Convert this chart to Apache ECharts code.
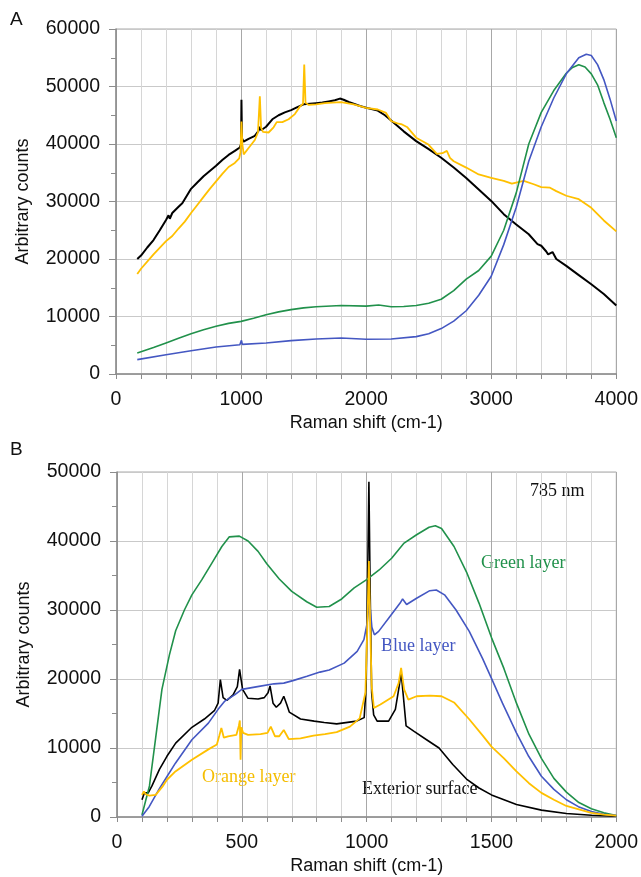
<!DOCTYPE html>
<html>
<head>
<meta charset="utf-8">
<script src="https://cdn.jsdelivr.net/npm/echarts@6/dist/echarts.min.js"></script>
<style>
html,body{margin:0;padding:0;background:#fff;}
#chart{width:641px;height:877px;}
</style>
</head>
<body>
<div id="chart"></div>
<script>
// ---------- Panel A data ----------
var aXTicks = [0, 1000, 2000, 3000, 4000];
var aYTicks = [0, 10000, 20000, 30000, 40000, 50000, 60000];

var aBlackX = [170,200,250,300,350,400,420,430,450,500,530,600,650,700,750,800,850,900,950,990,1000,1003,1007,1020,1060,1110,1140,1150,1160,1200,1250,1300,1350,1400,1450,1500,1550,1600,1650,1700,1750,1790,1820,1860,1900,1950,2000,2093,2150,2200,2300,2400,2500,2600,2700,2800,2900,3000,3100,3200,3300,3370,3400,3440,3455,3490,3520,3600,3700,3800,3900,4000];
var aBlackY = [20000,20600,22000,23300,25000,26800,27600,27000,28000,29100,29700,32200,33300,34400,35300,36200,37200,38100,38800,39400,40000,47700,41000,40400,40900,41400,42300,43000,42400,43000,44300,45000,45500,45900,46400,46900,47000,47100,47200,47400,47600,47900,47700,47300,47000,46600,46300,45800,45000,44100,42200,40500,39100,37600,35900,34100,32100,30100,27800,26000,24300,22600,22300,21300,20800,21200,20000,18800,17200,15600,13900,11900];

var aOrangeX = [170,200,300,400,450,500,550,600,650,700,750,800,850,900,950,985,995,1003,1010,1021,1060,1110,1135,1150,1160,1175,1220,1260,1285,1330,1380,1430,1470,1495,1505,1515,1540,1600,1670,1730,1800,1900,2000,2093,2159,2200,2250,2287,2300,2330,2400,2498,2565,2610,2645,2670,2700,2800,2900,3000,3100,3165,3260,3340,3400,3470,3520,3600,3700,3800,3900,4000];
var aOrangeY = [17400,18300,20800,23100,24000,25300,26500,28000,29400,30800,32200,33500,34800,36000,36700,37500,38500,43900,40000,38200,39300,40700,42000,48300,42800,42100,42000,42900,43800,43800,44300,45200,46500,47000,53800,47200,46800,46900,47100,47200,47300,46900,46300,46000,45400,44000,43600,43400,43600,42900,41100,39900,38300,38400,38800,37600,37000,35900,34700,34100,33600,33100,33600,33000,32500,32400,31800,31000,30400,28900,26700,24800];

var aGreenX = [170,300,400,500,600,700,800,900,1000,1100,1200,1300,1400,1500,1600,1800,2000,2100,2200,2300,2400,2500,2600,2700,2800,2900,3000,3100,3200,3300,3400,3500,3600,3650,3700,3750,3800,3850,3900,3950,4000];
var aGreenY = [3650,4600,5400,6200,7000,7700,8300,8800,9150,9700,10300,10800,11200,11500,11700,11900,11800,12000,11700,11750,11900,12300,13000,14500,16500,18000,20500,25000,31500,40000,45500,49300,52300,53300,53800,53400,52200,50300,47200,44300,41100];

var aBlueX = [170,400,600,800,990,1003,1010,1200,1400,1600,1800,2000,2200,2400,2500,2600,2700,2800,2900,3000,3100,3200,3300,3400,3500,3600,3700,3760,3800,3850,3900,3950,4000];
var aBlueY = [2500,3350,4050,4700,5100,5850,5150,5400,5800,6100,6250,6050,6100,6500,7000,7900,9200,11000,13700,17000,22500,29000,37000,43000,48000,52200,55000,55600,55400,53800,51200,47800,44000];

// ---------- Panel B data ----------
var bXTicks = [0, 500, 1000, 1500, 2000];
var bYTicks = [0, 10000, 20000, 30000, 40000, 50000];

var bGreenX = [100,130,155,180,210,235,270,300,340,380,420,450,490,525,565,600,650,700,760,800,850,900,950,1000,1050,1100,1150,1200,1250,1275,1300,1350,1400,1450,1500,1550,1600,1650,1700,1750,1800,1850,1900,1950,2000];
var bGreenY = [300,4500,11500,18500,23500,27000,30000,32200,34400,36800,39200,40600,40700,40000,38500,36700,34500,32700,31200,30400,30500,31600,33200,34400,35800,37500,39700,40900,42000,42200,41800,39200,35500,31000,26000,21500,16500,12000,8500,5600,3600,2100,1200,600,200];

var bBlueX = [100,129,168,201,234,300,366,405,432,471,500,563,629,668,708,761,813,850,910,962,989,1002,1011,1021,1031,1048,1094,1134,1144,1160,1200,1253,1279,1312,1358,1411,1464,1500,1544,1600,1649,1700,1750,1800,1848,1900,1950,2000];
var bBlueY = [100,1500,4000,5900,7800,11200,13600,15600,16800,17700,18500,18900,19300,19400,19800,20400,21000,21300,22300,24000,25700,28100,31500,27500,26400,26900,29100,31000,31600,30800,31700,32800,32900,32200,30000,26900,23000,20100,16500,12200,8800,5900,4000,2500,1500,800,400,200];

var bBlackX = [100,110,118,125,140,170,200,235,300,350,390,405,414,425,440,465,482,491,503,525,565,590,605,613,625,638,655,668,680,690,735,790,830,880,960,990,998,1004,1009,1014,1020,1028,1042,1088,1115,1130,1138,1147,1158,1190,1240,1290,1345,1400,1450,1500,1550,1600,1700,1800,1900,2000];
var bBlackY = [2500,3500,3700,3500,4500,6900,8800,10700,13000,14200,15400,16500,19900,17300,16900,17700,18900,21400,18500,17200,17100,17300,18000,19000,16500,15900,16500,17500,16300,15200,14200,13900,13700,13500,13900,14400,19000,35000,48600,33000,18000,14800,13900,13900,15600,18900,21000,17500,13200,12400,11200,10000,7600,5500,4200,3200,2500,1800,1000,500,250,100];

var bOrangeX = [100,108,115,130,155,182,200,234,300,366,400,410,418,428,445,478,488,492,495,498,505,525,575,603,616,633,650,668,688,735,787,833,880,933,972,995,1003,1009,1014,1020,1029,1055,1108,1128,1138,1150,1167,1200,1253,1300,1350,1410,1465,1500,1550,1600,1650,1700,1750,1800,1850,1900,1950,2000];
var bOrangeY = [3200,3700,3300,3100,3200,4400,5400,6600,8300,9800,10500,11800,12900,11500,11700,11900,13200,14000,8300,13000,12200,11900,12000,12200,13100,11700,11700,12600,11300,11400,11800,12000,12300,13100,14300,18000,28000,37100,28000,19000,15800,16300,17500,19400,21600,18500,17000,17500,17600,17500,16600,14200,11800,10200,8500,6600,4900,3500,2500,1600,1100,600,350,200];

// ---------- styling ----------
var C_BLACK = '#000000', C_ORANGE = '#ffc000', C_GREEN = '#21914b', C_BLUE = '#4457c2';
var GRID_MINOR = '#d6d6d6', GRID_MAJOR = '#a8a8a8', GRID_H = '#c9c9c9', AXIS_C = '#8c8c8c';
var SANS = 'Liberation Sans, Arial, sans-serif';
var SERIF = 'Liberation Serif, Times New Roman, serif';

function pairs(xs, ys){ return xs.map(function(x,i){ return [x, ys[i]]; }); }

function xAxisDef(gridIndex, max, step, labels){
  var cols = [];
  var per = labels[1] / step;
  for (var i = 0; i < per; i++) cols.push(i === 0 ? GRID_MAJOR : GRID_MINOR);
  return {
    type:'value', gridIndex:gridIndex, min:0, max:max, interval:step,
    name:'Raman shift (cm-1)', nameLocation:'middle', nameGap:40,
    nameTextStyle:{fontFamily:SANS, fontSize:18, color:'#111'},
    axisLine:{show:true, onZero:false, lineStyle:{color:AXIS_C, width:1.5}},
    axisTick:{show:true, length:5, lineStyle:{color:AXIS_C}},
    axisLabel:{margin:16, fontFamily:SANS, fontSize:19.5, color:'#111',
      formatter:function(v){ return labels.indexOf(v) >= 0 ? String(v) : ''; }},
    splitLine:{show:true, lineStyle:{color:cols, width:1}}
  };
}
function yAxisDef(gridIndex, max, labels){
  return {
    type:'value', gridIndex:gridIndex, min:0, max:max, interval:10000,
    name:'Arbitrary counts', nameLocation:'middle', nameGap:84,
    nameTextStyle:{fontFamily:SANS, fontSize:18, color:'#111'},
    axisLine:{show:true, onZero:false, lineStyle:{color:AXIS_C, width:1.5}},
    axisTick:{show:true, length:7, lineStyle:{color:AXIS_C}},
    minorTick:{show:true, splitNumber:2, length:5, lineStyle:{color:AXIS_C}},
    axisLabel:{margin:16, fontFamily:SANS, fontSize:19.5, color:'#111',
      formatter:function(v){ return labels.indexOf(v) >= 0 ? String(v) : ''; }},
    splitLine:{show:true, lineStyle:{color:GRID_H, width:1}}
  };
}
function line(name, xi, yi, xs, ys, color, w, z){
  return {name:name, type:'line', xAxisIndex:xi, yAxisIndex:yi, data:pairs(xs, ys),
    showSymbol:false, symbol:'none', lineStyle:{color:color, width:w}, itemStyle:{color:color},
    z:z, animation:false};
}

var chart = echarts.init(document.getElementById('chart'), null, {renderer:'canvas'});
chart.setOption({
  backgroundColor:'#ffffff',
  animation:false,
  grid:[
    {left:116, top:29, width:504, height:345, show:true, borderColor:'#a8a8a8', borderWidth:1, backgroundColor:'transparent'},
    {left:117, top:472, width:505, height:345, show:true, borderColor:'#a8a8a8', borderWidth:1, backgroundColor:'transparent'}
  ],
  xAxis:[ xAxisDef(0, 4000, 200, aXTicks), xAxisDef(1, 2000, 100, bXTicks) ],
  yAxis:[ yAxisDef(0, 60000, aYTicks), yAxisDef(1, 50000, bYTicks) ],
  series:[
    line('A exterior', 0, 0, aBlackX, aBlackY, C_BLACK, 2, 2),
    line('A orange', 0, 0, aOrangeX, aOrangeY, C_ORANGE, 1.8, 3),
    line('A green', 0, 0, aGreenX, aGreenY, C_GREEN, 1.6, 4),
    line('A blue', 0, 0, aBlueX, aBlueY, C_BLUE, 1.6, 5),
    line('Exterior surface', 1, 1, bBlackX, bBlackY, C_BLACK, 1.6, 2),
    line('Green layer', 1, 1, bGreenX, bGreenY, C_GREEN, 1.6, 3),
    line('Blue layer', 1, 1, bBlueX, bBlueY, C_BLUE, 1.6, 4),
    line('Orange layer', 1, 1, bOrangeX, bOrangeY, C_ORANGE, 1.8, 5)
  ],
  graphic:[
    {type:'text', left:10, top:10, style:{text:'A', font:'19px ' + SANS, fill:'#111'}},
    {type:'text', left:10, top:440, style:{text:'B', font:'19px ' + SANS, fill:'#111'}},
    {type:'text', left:530, top:482, style:{text:'785 nm', font:'18px ' + SERIF, fill:'#111'}},
    {type:'text', left:481, top:554, style:{text:'Green layer', font:'18px ' + SERIF, fill:C_GREEN}},
    {type:'text', left:381, top:637, style:{text:'Blue layer', font:'18px ' + SERIF, fill:C_BLUE}},
    {type:'text', left:202, top:768, style:{text:'Orange layer', font:'18px ' + SERIF, fill:'#f5bd00'}},
    {type:'text', left:362, top:780, style:{text:'Exterior surface', font:'18px ' + SERIF, fill:'#111'}}
  ]
});
</script>
</body>
</html>
